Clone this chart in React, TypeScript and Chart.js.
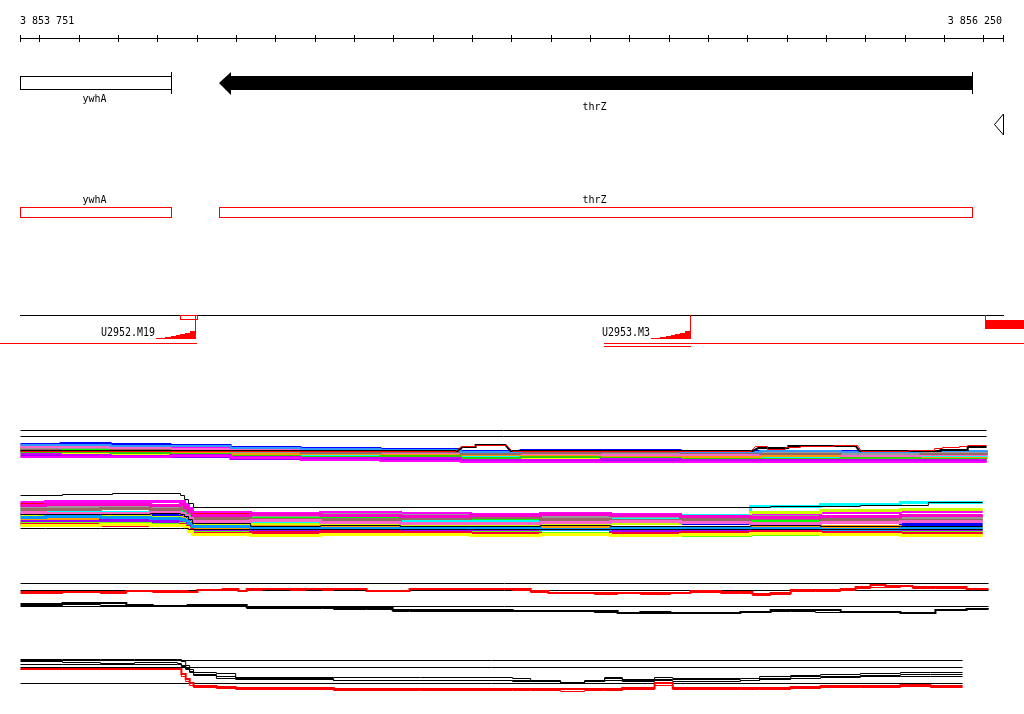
import React, { useEffect, useRef } from "react";
import { Chart, registerables } from "chart.js";

Chart.register(...registerables);

// ---------------- ruler ----------------
const RULER_START = 3853751;
const RULER_END = 3856250;
const RULER_TICK_STEP = 100;
const RULER_LABELS = ["3 853 751", "3 856 250"];

// ---------------- genes ----------------
const GENE_NAMES = ["ywhA", "thrZ"];
const GENE_STARTS = [3853751, 3854257];
const GENE_ENDS = [3854135, 3856171];
const GENE_STRANDS = ["", "-"];
const NAV_MARK = [3856227, 3856250];

// ---------------- markers ----------------
const MARKER_NAMES = ["U2952.M19", "U2953.M3"];
const MARKER_POS = [3854196, 3855454];
const MARKER_RAMP_OFFSETS = [-99, -76, -61, -48, -38, -25, -13];
const MARKER_RAMP_SCORES = [1, 2, 3, 4, 5, 6, 8];
const MARKER_BOX = [3854158, 3854201];
const MARKER_SPAN_STARTS = [3853700, 3855236];
const MARKER_SPAN_ENDS = [3854198, 3856303];
const MARKER_SUBSPAN = [3855236, 3855454];
const EDGE_MARKER = [3856204, 3856303];

// ---------------- profile group 1 ----------------
const G1_POS = [3853751, 3853853, 3853980, 3854132, 3854285, 3854463, 3854666, 3854870, 3855022, 3855226, 3855429, 3855632, 3855836, 3856039, 3856207];
const G1_COLORS = ["#ff00ff", "#0000ff", "#ff0000", "#00ff00", "#00ffff", "#ffff00", "#ff9900", "#999999", "#9900ff", "#ff66cc", "#996666", "#33cc00", "#3399ff", "#cc00ff", "#ff00ff"];
const G1_LEVELS = [
  [16, 16, 17, 17, 19, 20, 21, 22, 22, 23, 23, 24, 23, 24, 24],
  [14, 13, 14, 15, 17, 18, 19, 21, 20, 20, 21, 22, 21, 22, 21],
  [18, 19, 19, 20, 21, 22, 22, 24, 23, 24, 24, 25, 25, 24, 25],
  [21, 20, 21, 22, 23, 24, 25, 26, 26, 27, 26, 27, 27, 28, 27],
  [22, 23, 22, 23, 25, 26, 27, 27, 28, 27, 28, 28, 29, 27, 28],
  [25, 24, 25, 26, 27, 28, 29, 29, 29, 30, 29, 30, 30, 29, 30],
  [20, 21, 22, 22, 24, 24, 24, 25, 25, 26, 27, 26, 27, 28, 29],
  [19, 18, 20, 21, 22, 22, 23, 23, 24, 23, 24, 23, 24, 23, 24],
  [26, 26, 27, 27, 29, 29, 30, 31, 31, 30, 31, 31, 31, 31, 31],
  [17, 17, 18, 19, 20, 21, 23, 23, 24, 25, 25, 24, 26, 25, 26],
  [20, 21, 20, 21, 21, 23, 22, 24, 23, 22, 23, 24, 22, 24, 23],
  [23, 22, 23, 24, 26, 27, 26, 28, 27, 28, 29, 29, 28, 29, 29],
  [15, 15, 16, 16, 18, 19, 20, 22, 21, 21, 22, 21, 22, 21, 22],
  [24, 25, 26, 25, 27, 28, 28, 30, 30, 29, 30, 30, 30, 30, 30],
  [27, 27, 27, 26, 28, 30, 31, 32, 32, 32, 32, 32, 32, 32, 32],
];
const G1_REF_LEVELS = [0, 6];
const G1_END = 3856207;
const G1_RED_POS = [3853751, 3854857, 3854872, 3854908, 3854908, 3854987, 3855002, 3855607, 3855620, 3855650, 3855650, 3855696, 3855696, 3855734, 3855734, 3855820, 3855820, 3855879, 3855889, 3856009, 3856009, 3856075, 3856075, 3856095, 3856095, 3856138, 3856138, 3856159, 3856159, 3856207];
const G1_RED_LEVEL = [21, 21, 16, 16, 14.5, 14.5, 21, 21, 16, 16, 18.5, 18.5, 17, 17, 16, 16, 14.5, 14.5, 21, 21, 19.5, 19.5, 17.5, 17.5, 16.5, 16.5, 15.5, 15.5, 14.5, 14.5];
const G1_BLACK_POS = [3853751, 3854862, 3854875, 3854908, 3854908, 3854984, 3854997, 3855612, 3855627, 3855703, 3855703, 3855874, 3855884, 3856090, 3856090, 3856159, 3856159, 3856207];
const G1_BLACK_LEVEL = [21, 21, 16.5, 16.5, 15.3, 15.3, 21, 21, 17.5, 17.5, 16, 16, 21, 21, 20, 20, 17, 17];

// ---------------- profile group 2 ----------------
const G2_POS = [3853751, 3853815, 3853954, 3854081, 3854158, 3854168, 3854178, 3854188, 3854336, 3854514, 3854717, 3854895, 3855073, 3855251, 3855429, 3855607, 3855785, 3855988, 3856197];
const G2_COLORS = ["#ff00ff", "#ff0000", "#0000ff", "#00ff00", "#00ffff", "#ccff00", "#ff9900", "#999999", "#9900ff", "#996666", "#ff66cc", "#66ff00", "#0099ff", "#ff0033", "#ff00cc", "#ffff00"];
const G2_LEVELS = [
  [12, 11, 11, 11, 11, 14, 18, 22, 23, 22, 23, 24, 23, 24, 25, 23, 22, 21, 21],
  [14, 15, 15, 16, 17, 19, 22, 24, 25, 26, 25, 26, 27, 26, 26, 28, 27, 26, 26],
  [24, 24, 25, 24, 24, 26, 30, 33, 32, 33, 32, 31, 33, 32, 33, 33, 32, 34, 34],
  [18, 18, 17, 18, 19, 21, 24, 27, 28, 27, 28, 29, 28, 29, 30, 31, 30, 29, 29],
  [21, 21, 22, 21, 22, 24, 27, 30, 31, 30, 30, 31, 30, 29, 25, 16, 14, 12, 12],
  [26, 27, 26, 27, 27, 29, 32, 35, 34, 35, 36, 35, 34, 33, 28, 22, 20, 19, 19],
  [29, 28, 29, 29, 28, 30, 33, 37, 36, 37, 38, 37, 36, 37, 38, 37, 36, 37, 37],
  [16, 16, 16, 17, 16, 19, 22, 26, 25, 24, 25, 26, 27, 26, 27, 26, 27, 28, 28],
  [31, 31, 30, 31, 32, 33, 36, 40, 39, 40, 41, 40, 39, 40, 41, 40, 41, 40, 40],
  [19, 19, 18, 19, 18, 20, 23, 28, 29, 29, 28, 27, 29, 30, 29, 28, 29, 30, 30],
  [22, 23, 23, 22, 23, 25, 28, 31, 30, 32, 33, 33, 32, 31, 32, 33, 32, 31, 31],
  [33, 33, 33, 34, 33, 35, 38, 42, 43, 42, 43, 42, 43, 44, 45, 44, 43, 42, 42],
  [27, 26, 27, 28, 29, 30, 33, 36, 38, 38, 37, 38, 39, 38, 37, 38, 39, 38, 38],
  [34, 34, 35, 35, 34, 36, 39, 43, 42, 41, 42, 43, 44, 43, 42, 41, 42, 43, 43],
  [15, 14, 14, 15, 14, 17, 21, 25, 24, 25, 26, 25, 24, 25, 26, 27, 26, 25, 25],
  [35, 35, 34, 35, 35, 37, 41, 44, 45, 44, 44, 45, 44, 45, 44, 43, 44, 45, 45],
];
const G2_TOP_POS = [3853751, 3853858, 3853985, 3854158, 3854168, 3854178, 3854191, 3855658, 3855886, 3856059, 3856197];
const G2_TOP_LEVEL = [5, 4, 3, 5, 9, 13, 17, 16, 15, 12, 12];
const G2_MID_LEVEL = [24, 24, 24, 23, 24, 26, 29, 33, 36, 35, 36, 36, 35, 36, 36, 35, 36, 36, 36];
const G2_BOTTOM_LEVEL = [38, 38, 38, 38, 38, 38, 39, 39, 39, 39, 39, 39, 39, 39, 39, 39, 39, 39, 39];

// ---------------- profile group 3 ----------------
const G3_POS = [3853751, 3853858, 3853954, 3854020, 3854087, 3854176, 3854201, 3854265, 3854305, 3854326, 3854366, 3854437, 3854476, 3854519, 3854547, 3854631, 3854697, 3854740, 3855002, 3855048, 3855093, 3855210, 3855269, 3855327, 3855403, 3855454, 3855531, 3855581, 3855612, 3855658, 3855709, 3855772, 3855836, 3855874, 3855912, 3855950, 3855988, 3856019, 3856077, 3856156, 3856212];
const G3_RED1 = [11.7, 12.3, 11.7, 11.3, 11.3, 12, 9.7, 8.7, 10.7, 8.7, 8.7, 8.7, 9, 8.7, 8.7, 10.7, 10.7, 8.7, 9.3, 11, 12.7, 12.7, 12.7, 12.7, 12.7, 11, 11.5, 11.5, 14.3, 13, 10.3, 9.7, 8.7, 6.7, 5.3, 5.7, 5.7, 6.7, 6.7, 8.7, 8.7];
const G3_RED2 = [13, 12, 12.5, 11, 11.5, 11.5, 9, 9.5, 10, 9.5, 8.5, 9.5, 8, 9.5, 9, 10, 11, 9, 10, 12, 12, 13.5, 13, 13.5, 13, 12, 12.5, 13, 14.5, 13.5, 11, 10.5, 9.5, 7.5, 6.5, 6.5, 6, 7.5, 7.5, 9, 9];
const G3_BLACK1 = [23.5, 23.3, 23.3, 25, 25.7, 25.3, 25.3, 25, 25, 27.3, 27.7, 27.7, 27.3, 27.3, 27.7, 27.7, 30, 30, 30.7, 30.7, 30.7, 30.7, 32.7, 32, 32.5, 32.5, 32.5, 31.7, 31.7, 30.3, 30.3, 30.3, 31.7, 31.7, 31.7, 31.7, 32.7, 32.7, 30, 28.7, 28.7];
const G3_BLACK2 = [24.5, 24, 24.5, 25, 26, 26, 25.5, 25.5, 26, 27.5, 28, 28, 28, 28, 28.5, 28.5, 30.5, 30.5, 31, 31, 31, 31.5, 32, 32.5, 32.5, 33, 33, 32, 31, 31, 31, 31.5, 32, 32, 32, 32, 32.5, 32, 29, 28, 28];
const G3_REF_LEVELS = [3, 10, 26];
const G3_END = 3856212;

// ---------------- profile group 4 ----------------
const G4_POS = [3853751, 3853858, 3853954, 3854041, 3854150, 3854160, 3854171, 3854181, 3854191, 3854249, 3854298, 3854547, 3854768, 3855002, 3855048, 3855124, 3855185, 3855236, 3855281, 3855363, 3855409, 3855581, 3855630, 3855709, 3855785, 3855886, 3855988, 3856064, 3856146];
const G4_BLACK_A = [8.5, 8.5, 8.5, 8.7, 8.7, 11, 15, 19, 21.7, 23.3, 27, 27.3, 27.3, 28.3, 30, 31.7, 30, 26.7, 29, 27.3, 28, 28.3, 26, 25, 24.3, 23.3, 22.3, 22.3, 22.3];
const G4_BLACK_B = [11, 12, 12.5, 12, 13, 15, 18, 21, 24, 26, 28.3, 30, 30, 30.5, 31, 31.5, 31, 29.5, 31, 30, 30.5, 30, 28.5, 27.5, 27, 26, 26, 26, 26];
const G4_BLACK_C = [14.3, 14.3, 14, 14, 14, 16, 19, 22, 25, 28, 29, 29.5, 29.7, 29.7, 30.5, 31.7, 30.7, 28.3, 30, 28.7, 29.3, 29.5, 27.5, 26.3, 25.5, 24.7, 24, 24, 24];
const G4_RED_A = [19.3, 19.3, 19.3, 19.3, 19.3, 24, 29, 33, 35.7, 37.3, 38.3, 38.5, 39.3, 39.3, 39.3, 39.3, 38.7, 38.7, 38, 33, 37.7, 38, 38, 36.7, 36, 36, 35.3, 36, 36];
const G4_RED_B = [19.3, 19.3, 19.3, 19.3, 19.3, 26, 31, 35, 37.3, 38.3, 39, 39.5, 40, 40.3, 40, 40.5, 39.5, 39.5, 39, 35, 38.5, 39, 38.7, 37.5, 37, 36.7, 36, 36.5, 36.5];
const G4_REF_LEVELS = [10, 17, 33];
const G4_END = 3856146;

// ---------------- layout (pixels) ----------------
const W = 1024;
const H = 714;
const LEFT_PX = 20.5;
const BP_PER_PX = (RULER_END - RULER_START) / 983;
const BASE1 = 430;
const BASE2 = 490;
const BASE3 = 580;
const BASE4 = 650;
const RED = "#ff0000";
const MONO = '"DejaVu Sans Mono", "Liberation Mono", monospace';

function lineDs(pos: number[], levels: number[], base: number, color: string, width: number, stepped: boolean) {
  const odd = width % 2 === 1;
  return {
    data: pos.map((p, i) => ({ x: p, y: Math.round(base + levels[i]) + (odd ? 0.5 : 0) })),
    borderColor: color,
    backgroundColor: color,
    borderWidth: width,
    stepped: stepped,
    pointRadius: 0,
    fill: false,
    tension: 0,
    borderCapStyle: "butt",
  } as any;
}

function refDs(end: number, level: number, base: number) {
  return lineDs([RULER_START, end], [level, level], base, "#000000", 1, false);
}

const tracksPlugin = {
  id: "genomeTracks",
  afterDatasetsDraw(chart: any) {
    const ctx: CanvasRenderingContext2D = chart.ctx;
    const xs = chart.scales.x;
    const ys = chart.scales.y;
    const col = (bp: number) => Math.round(xs.getPixelForValue(bp) - 0.5);
    const Y = (v: number) => ys.getPixelForValue(v);
    ctx.save();
    ctx.lineWidth = 1;
    ctx.strokeStyle = "#000";
    ctx.fillStyle = "#000";

    // ruler
    const r0 = col(RULER_START);
    const r1 = col(RULER_END);
    ctx.beginPath();
    ctx.moveTo(r0, Y(38) + 0.5);
    ctx.lineTo(r1 + 1, Y(38) + 0.5);
    const ticks = [RULER_START];
    for (let t = Math.ceil(RULER_START / RULER_TICK_STEP) * RULER_TICK_STEP; t < RULER_END; t += RULER_TICK_STEP) ticks.push(t);
    ticks.push(RULER_END);
    ticks.forEach((t) => {
      const c = col(t) + 0.5;
      ctx.moveTo(c, Y(35));
      ctx.lineTo(c, Y(42));
    });
    ctx.stroke();
    ctx.font = "10px " + MONO;
    ctx.textBaseline = "alphabetic";
    ctx.textAlign = "left";
    ctx.fillText(RULER_LABELS[0], r0, Y(24));
    ctx.textAlign = "right";
    ctx.fillText(RULER_LABELS[1], r1 - 1, Y(24));

    // gene track (black)
    GENE_NAMES.forEach((name, i) => {
      const s = col(GENE_STARTS[i]);
      const e = col(GENE_ENDS[i]);
      if (GENE_STRANDS[i] === "-") {
        const head = s + 11;
        ctx.beginPath();
        ctx.moveTo(s, Y(83));
        ctx.lineTo(head + 1, Y(72));
        ctx.lineTo(head + 1, Y(76));
        ctx.lineTo(e + 1, Y(76));
        ctx.lineTo(e + 1, Y(90));
        ctx.lineTo(head + 1, Y(90));
        ctx.lineTo(head + 1, Y(95));
        ctx.closePath();
        ctx.fill();
      } else {
        ctx.strokeRect(s + 0.5, Y(76) + 0.5, e - s, 13);
      }
      ctx.beginPath();
      ctx.moveTo(e + 0.5, Y(72));
      ctx.lineTo(e + 0.5, Y(94));
      ctx.stroke();
      ctx.textAlign = "center";
      ctx.fillText(name, (s + e) / 2 - 1, Y(i % 2 === 0 ? 102 : 110));
    });
    // navigation triangle
    {
      const a = col(NAV_MARK[0]) + 0.5;
      const b = col(NAV_MARK[1]) + 0.5;
      ctx.beginPath();
      ctx.moveTo(a, Y(124.5));
      ctx.lineTo(b, Y(114));
      ctx.lineTo(b, Y(135));
      ctx.closePath();
      ctx.stroke();
    }

    // gene track (red outline)
    ctx.strokeStyle = RED;
    GENE_NAMES.forEach((name, i) => {
      const s = col(GENE_STARTS[i]);
      const e = col(GENE_ENDS[i]);
      ctx.strokeRect(s + 0.5, Y(207) + 0.5, e - s, 10);
      ctx.textAlign = "center";
      ctx.fillStyle = "#000";
      ctx.fillText(name, (s + e) / 2 - 1, Y(203));
    });

    // marker track
    ctx.strokeStyle = "#000";
    ctx.beginPath();
    ctx.moveTo(r0, Y(315) + 0.5);
    ctx.lineTo(r1 + 1, Y(315) + 0.5);
    ctx.stroke();

    ctx.strokeStyle = RED;
    ctx.fillStyle = RED;
    {
      const a = col(MARKER_BOX[0]);
      const b = col(MARKER_BOX[1]);
      ctx.strokeRect(a + 0.5, Y(315) + 0.5, b - a, 4);
    }
    MARKER_NAMES.forEach((name, i) => {
      const m = col(MARKER_POS[i]);
      ctx.beginPath();
      ctx.moveTo(m + 0.5, Y(315));
      ctx.lineTo(m + 0.5, Y(339));
      ctx.stroke();
      for (let j = 0; j < MARKER_RAMP_OFFSETS.length; j++) {
        const x0 = col(MARKER_POS[i] + MARKER_RAMP_OFFSETS[j]);
        const x1 = j < MARKER_RAMP_OFFSETS.length - 1 ? col(MARKER_POS[i] + MARKER_RAMP_OFFSETS[j + 1]) : m + 1;
        const h = MARKER_RAMP_SCORES[j];
        ctx.fillRect(x0, Y(339 - h), x1 - x0, h);
      }
      const lx = col(MARKER_POS[i] + MARKER_RAMP_OFFSETS[0]) - 1;
      ctx.save();
      ctx.fillStyle = "#000";
      ctx.font = "12px " + MONO;
      ctx.textAlign = "right";
      ctx.translate(lx, Y(336));
      ctx.scale(0.83, 1);
      ctx.fillText(name, 0, 0);
      ctx.restore();
    });
    ctx.beginPath();
    MARKER_SPAN_STARTS.forEach((s, i) => {
      ctx.moveTo(col(s), Y(343) + 0.5);
      ctx.lineTo(col(MARKER_SPAN_ENDS[i]) + 1, Y(343) + 0.5);
    });
    ctx.moveTo(col(MARKER_SUBSPAN[0]), Y(346) + 0.5);
    ctx.lineTo(col(MARKER_SUBSPAN[1]) + 1, Y(346) + 0.5);
    const em = col(EDGE_MARKER[0]);
    ctx.moveTo(em + 0.5, Y(315));
    ctx.lineTo(em + 0.5, Y(320));
    ctx.stroke();
    ctx.fillRect(em, Y(320), col(EDGE_MARKER[1]) + 1 - em, 9);

    ctx.restore();
  },
};

export default function App() {
  const ref = useRef<HTMLCanvasElement | null>(null);

  useEffect(() => {
    const canvas = ref.current;
    if (!canvas) return;

    const layers: any[] = [];
    G1_REF_LEVELS.forEach((l) => layers.push(refDs(G1_END, l, BASE1)));
    G3_REF_LEVELS.forEach((l) => layers.push(refDs(G3_END, l, BASE3)));
    G4_REF_LEVELS.forEach((l) => layers.push(refDs(G4_END, l, BASE4)));

    G1_LEVELS.forEach((lv, i) => layers.push(lineDs(G1_POS, lv, BASE1, G1_COLORS[i], 2, true)));
    layers.push(lineDs(G1_BLACK_POS, G1_BLACK_LEVEL, BASE1, "#000000", 2, false));
    layers.push(lineDs(G1_RED_POS, G1_RED_LEVEL, BASE1, RED, 1, false));

    G2_LEVELS.forEach((lv, i) => layers.push(lineDs(G2_POS, lv, BASE2, G2_COLORS[i], 3, true)));
    layers.push(lineDs(G2_POS, G2_MID_LEVEL, BASE2, "#000000", 1, true));
    layers.push(lineDs(G2_POS, G2_BOTTOM_LEVEL, BASE2, "#000000", 1, true));
    layers.push(lineDs(G2_TOP_POS, G2_TOP_LEVEL, BASE2, "#000000", 1, true));

    layers.push(lineDs(G3_POS, G3_RED2, BASE3, RED, 1, true));
    layers.push(lineDs(G3_POS, G3_RED1, BASE3, RED, 2, true));
    layers.push(lineDs(G3_POS, G3_BLACK2, BASE3, "#000000", 1, true));
    layers.push(lineDs(G3_POS, G3_BLACK1, BASE3, "#000000", 2, true));

    layers.push(lineDs(G4_POS, G4_BLACK_C, BASE4, "#000000", 1, true));
    layers.push(lineDs(G4_POS, G4_BLACK_B, BASE4, "#000000", 1, true));
    layers.push(lineDs(G4_POS, G4_BLACK_A, BASE4, "#000000", 1, true));
    layers.push(lineDs(G4_POS, G4_RED_B, BASE4, RED, 1, true));
    layers.push(lineDs(G4_POS, G4_RED_A, BASE4, RED, 2, true));

    const n = layers.length;
    layers.forEach((d, i) => (d.order = n - i));

    const xMin = RULER_START - LEFT_PX * BP_PER_PX;
    const chart = new Chart(canvas, {
      type: "line",
      data: { datasets: layers },
      options: {
        animation: false,
        responsive: false,
        devicePixelRatio: 1,
        events: [],
        layout: { padding: 0 },
        scales: {
          x: { type: "linear", min: xMin, max: xMin + W * BP_PER_PX, display: false },
          y: { type: "linear", min: 0, max: H, reverse: true, display: false },
        },
        plugins: { legend: { display: false }, tooltip: { enabled: false } },
        elements: { point: { radius: 0 }, line: { tension: 0 } },
      } as any,
      plugins: [tracksPlugin],
    });
    return () => chart.destroy();
  }, []);

  return (
    <div style={{ position: "absolute", left: 0, top: 0, width: W, height: H, background: "#fff" }}>
      <canvas ref={ref} width={W} height={H} style={{ display: "block", width: W, height: H }} />
    </div>
  );
}
